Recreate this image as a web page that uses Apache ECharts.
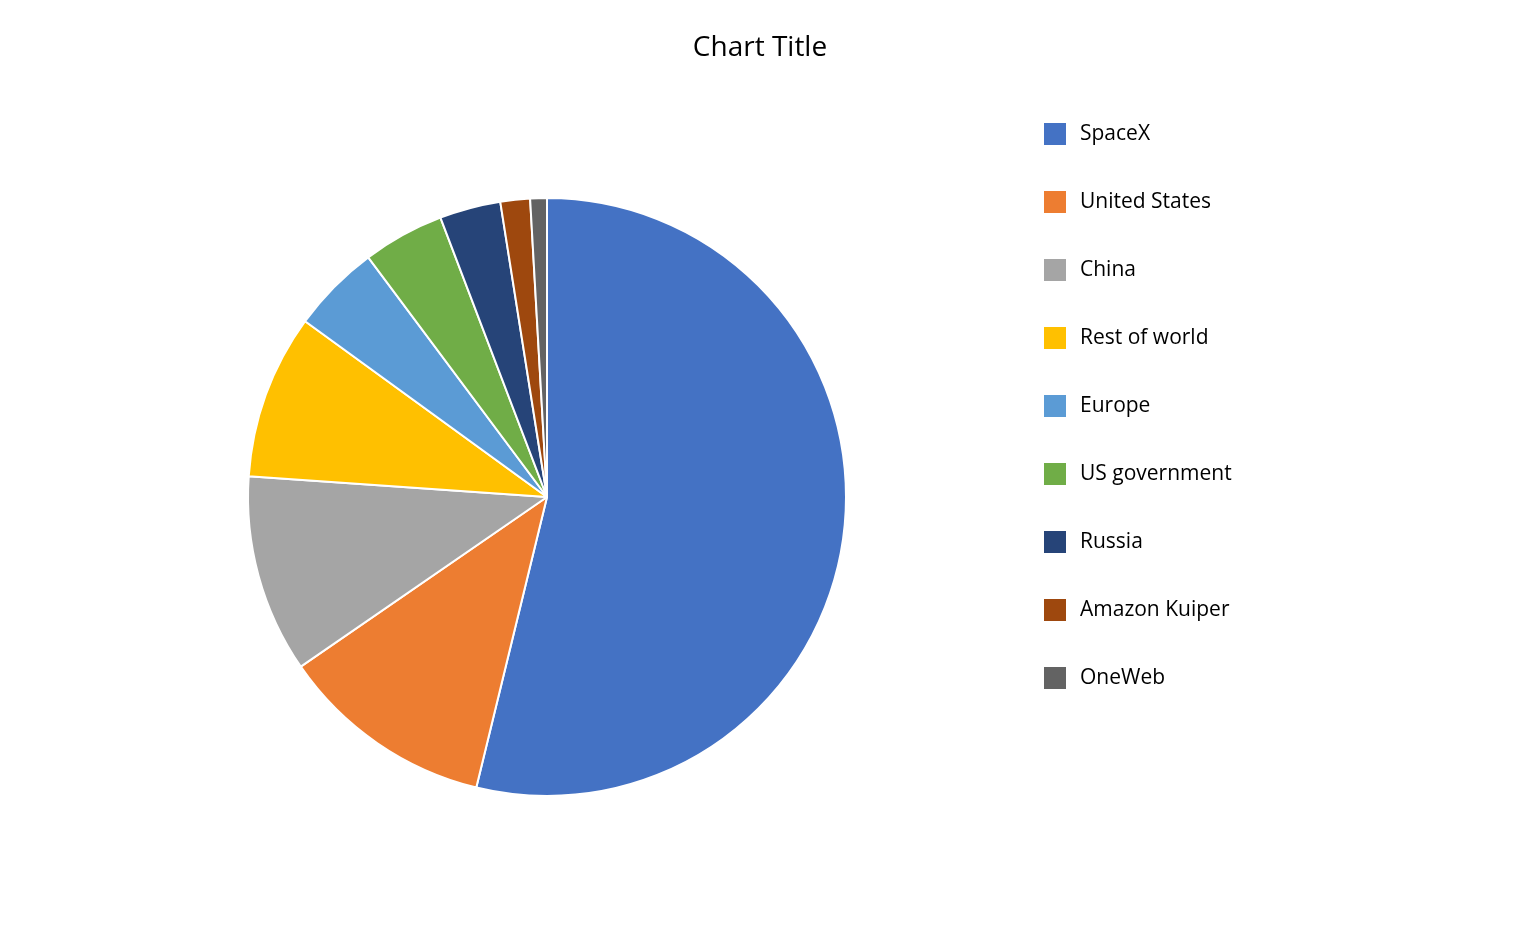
<!DOCTYPE html>
<html><head><meta charset="utf-8">
<script src="https://cdn.jsdelivr.net/npm/echarts@6/dist/echarts.min.js"></script>
<style>html,body{margin:0;padding:0;background:#fff}#c{width:1520px;height:940px}</style>
</head><body><div id="c"></div>
<script>
const categories = ["SpaceX","United States","China","Rest of world","Europe","US government","Russia","Amazon Kuiper","OneWeb"];
const values = [53.8, 11.6, 10.7, 8.9, 4.8, 4.4, 3.3, 1.6, 0.9];
const colors = ["#4472C4","#ED7D31","#A5A5A5","#FFC000","#5B9BD5","#70AD47","#264478","#9E480E","#636363"];
const chart = echarts.init(document.getElementById('c'));
chart.setOption({
  animation: false,
  title: { text: "Chart Title", left: 'center', top: 29, textStyle: { fontFamily: "Open Sans", fontSize: 28, fontWeight: 'normal', color: '#000' } },
  legend: {
    orient: 'vertical', left: 1042, top: 121, padding: 0, itemWidth: 24, itemHeight: 24, itemGap: 42, icon: 'rect',
    textStyle: { fontFamily: "Open Sans", fontSize: 21, color: '#000', padding: [0,0,0,8] },
    data: categories
  },
  series: [{
    type: 'pie', center: [547, 497], radius: 299, startAngle: 90, clockwise: true,
    label: { show: false }, labelLine: { show: false },
    itemStyle: { borderColor: '#fff', borderWidth: 2 },
    emphasis: { disabled: true },
    data: categories.map((n, i) => ({ name: n, value: values[i], itemStyle: { color: colors[i] } }))
  }]
});
</script></body></html>
